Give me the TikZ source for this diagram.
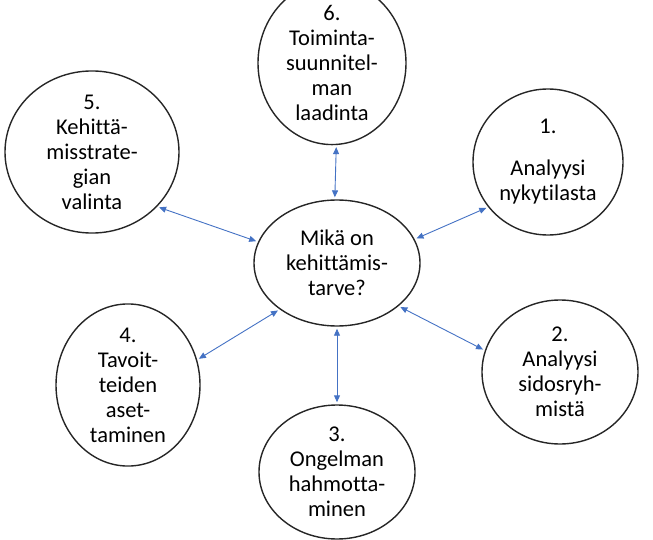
\documentclass[tikz,border=0pt]{standalone}
\usepackage{fontspec}
\setmainfont{Carlito}[Ligatures={NoCommon,NoContextual}]
\usetikzlibrary{arrows.meta,shapes.geometric}
\definecolor{arrowblue}{HTML}{4472C4}
\tikzset{
  bubble/.style={draw=black!85, line width=1.4pt, ellipse, inner sep=0pt, align=center,
    font=\fontsize{22.5}{25}\selectfont},
  link/.style={draw=arrowblue, line width=0.9pt, {Triangle[length=7pt,width=6pt]}-{Triangle[length=7pt,width=6pt]}, shorten <=2pt, shorten >=2pt}
}
\begin{document}
\begin{tikzpicture}[x=1pt,y=-1pt]
\useasboundingbox (0,0) rectangle (653,540);
\node[bubble, minimum width=166pt, minimum height=126pt] (c) at (337,263) {Mikä on\\kehittämis-\\tarve?};
\node[bubble, minimum width=148pt, minimum height=124pt] (n6) at (332,63) {6.\\Toiminta-\\suunnitel-\\man\\laadinta};
\node[bubble, minimum width=174pt, minimum height=132pt] (n5) at (92,152) {5.\\Kehittä-\\misstrate-\\gian\\valinta};
\node[bubble, minimum width=150pt, minimum height=146pt] (n1) at (548,162) {1.\\[17pt]Analyysi\\nykytilasta};
\node[bubble, minimum width=156pt, minimum height=144pt] (n2) at (560,372) {2.\\Analyysi\\sidosryh-\\mistä};
\node[bubble, minimum width=144pt, minimum height=132pt] (n4) at (128,385) {4.\\Tavoit-\\teiden\\aset-\\taminen};
\node[bubble, minimum width=156pt, minimum height=134pt] (n3) at (337,472) {3.\\Ongelman\\hahmotta-\\minen};
\draw[link] (c.92) -- (n6.273);
\draw[link] (c.165) -- (n5.320);
\draw[link] (c.17) -- (n1.217);
\draw[link] (c.-35) -- (n2.164);
\draw[link] (c.219) -- (n4.20);
\draw[link] (c.270) -- (n3.90);
\end{tikzpicture}
\end{document}
